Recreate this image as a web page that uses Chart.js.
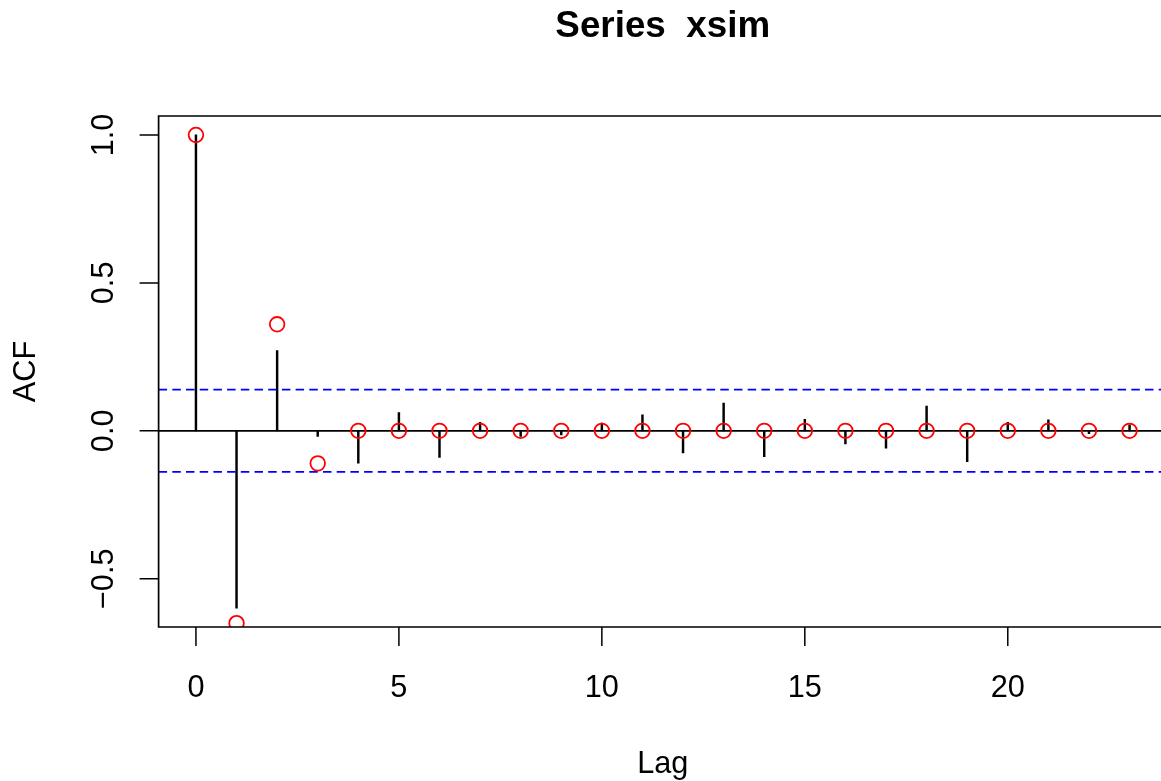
<!DOCTYPE html>
<html>
<head>
<meta charset="utf-8">
<title>Series xsim</title>
<script src="https://cdn.jsdelivr.net/npm/chart.js@4/dist/chart.umd.min.js"></script>
<style>
  html, body { margin: 0; padding: 0; background: #ffffff; }
  #wrap { width: 1161px; height: 781px; overflow: hidden; position: relative; }
  #acf { position: absolute; left: 0; top: 0; }
</style>
</head>
<body>
<div id="wrap"><canvas id="acf" width="1176" height="781"></canvas></div>
<script>
// Lags and the sample autocorrelations of xsim
const lags = [0, 1, 2, 3, 4, 5, 6, 7, 8, 9, 10, 11, 12, 13, 14, 15, 16, 17, 18, 19, 20, 21, 22, 23];
const sampleAcf = [1.0, -0.599, 0.271, -0.019, -0.109, 0.062, -0.090, 0.029, -0.019, -0.014,
                   0.026, 0.054, -0.075, 0.094, -0.087, 0.039, -0.044, -0.059, 0.084, -0.104,
                   0.029, 0.037, -0.010, 0.020];
// Theoretical autocorrelations of the generating model
const theoreticalAcf = [1.0, -0.65, 0.36, -0.11, 0, 0, 0, 0, 0, 0, 0, 0,
                        0, 0, 0, 0, 0, 0, 0, 0, 0, 0, 0, 0];
// Approximate 95% white-noise bounds
const confBound = 0.139;

// Axis limits and tick labels
const xLimits = [-0.92, 23.92];
const yLimits = [-0.663, 1.064];
const xTicks = [0, 5, 10, 15, 20];
const xTickLabels = ['0', '5', '10', '15', '20'];
const yTicks = [-0.5, 0.0, 0.5, 1.0];
const yTickLabels = ['\u22120.5', '0.0', '0.5', '1.0'];

const titleText = 'Series  xsim';
const xTitle = 'Lag';
const yTitle = 'ACF';

const FONT = '"Liberation Sans", Arial, Helvetica, sans-serif';

const spikeData = lags.map((l, i) => ({ x: l, y: [0, sampleAcf[i]] }));
const pointData = lags.map((l, i) => ({ x: l, y: theoreticalAcf[i] }));
const hLine = v => xLimits.map(x => ({ x: x, y: v }));

// Box, ticks and text drawn around the plotting region
const frame = {
  id: 'frame',
  afterDraw(chart) {
    const { ctx, chartArea: a, scales } = chart;
    const xs = scales.x, ys = scales.y;
    ctx.save();
    ctx.strokeStyle = '#000';
    ctx.lineWidth = 1.7;
    ctx.beginPath();
    ctx.rect(a.left, a.top, a.right - a.left, a.bottom - a.top);
    ctx.stroke();

    ctx.lineWidth = 1.5;
    ctx.beginPath();
    xTicks.forEach(t => {
      const px = xs.getPixelForValue(t);
      ctx.moveTo(px, a.bottom);
      ctx.lineTo(px, a.bottom + 19);
    });
    yTicks.forEach(t => {
      const py = ys.getPixelForValue(t);
      ctx.moveTo(a.left, py);
      ctx.lineTo(a.left - 19, py);
    });
    ctx.stroke();

    ctx.fillStyle = '#000';
    ctx.font = '30.7px ' + FONT;
    ctx.textAlign = 'center';
    ctx.textBaseline = 'alphabetic';
    xTicks.forEach((t, i) => {
      ctx.fillText(xTickLabels[i], xs.getPixelForValue(t), 697);
    });
    const cx = (a.left + a.right) / 2;
    const cy = (a.top + a.bottom) / 2;
    ctx.fillText(xTitle, cx, 773);

    yTicks.forEach((t, i) => {
      ctx.save();
      ctx.translate(113, ys.getPixelForValue(t));
      ctx.rotate(-Math.PI / 2);
      ctx.fillText(yTickLabels[i], 0, 0);
      ctx.restore();
    });
    ctx.save();
    ctx.translate(35, cy);
    ctx.rotate(-Math.PI / 2);
    ctx.fillText(yTitle, 0, 0);
    ctx.restore();

    ctx.font = 'bold 36.8px ' + FONT;
    ctx.fillText(titleText, cx, 37);
    ctx.restore();
  }
};

new Chart(document.getElementById('acf'), {
  data: {
    datasets: [
      {
        type: 'scatter',
        label: 'theoretical',
        data: pointData,
        pointStyle: 'circle',
        pointRadius: 7.3,
        pointHoverRadius: 7.3,
        backgroundColor: 'rgba(0,0,0,0)',
        borderColor: '#ff0000',
        pointBorderWidth: 1.8,
        order: 0
      },
      {
        type: 'line',
        label: 'zero',
        data: hLine(0),
        borderColor: '#000000',
        borderWidth: 1.8,
        pointRadius: 0,
        order: 1
      },
      {
        type: 'line',
        label: 'upper',
        data: hLine(confBound),
        borderColor: '#0000ff',
        borderWidth: 1.8,
        borderDash: [8.5, 5.2],
        pointRadius: 0,
        order: 2
      },
      {
        type: 'line',
        label: 'lower',
        data: hLine(-confBound),
        borderColor: '#0000ff',
        borderWidth: 1.8,
        borderDash: [8.5, 5.2],
        pointRadius: 0,
        order: 2
      },
      {
        type: 'bar',
        label: 'acf',
        data: spikeData,
        backgroundColor: '#000000',
        borderWidth: 0,
        barThickness: 1.8,
        grouped: false,
        order: 3
      }
    ]
  },
  options: {
    responsive: false,
    animation: false,
    events: [],
    layout: { padding: { left: 158.6, top: 116, right: 6.4, bottom: 154 } },
    plugins: {
      legend: { display: false },
      tooltip: { enabled: false },
      title: { display: false }
    },
    scales: {
      x: { type: 'linear', offset: false, min: xLimits[0], max: xLimits[1], display: false },
      y: { type: 'linear', min: yLimits[0], max: yLimits[1], display: false }
    }
  },
  plugins: [frame]
});
</script>
</body>
</html>
